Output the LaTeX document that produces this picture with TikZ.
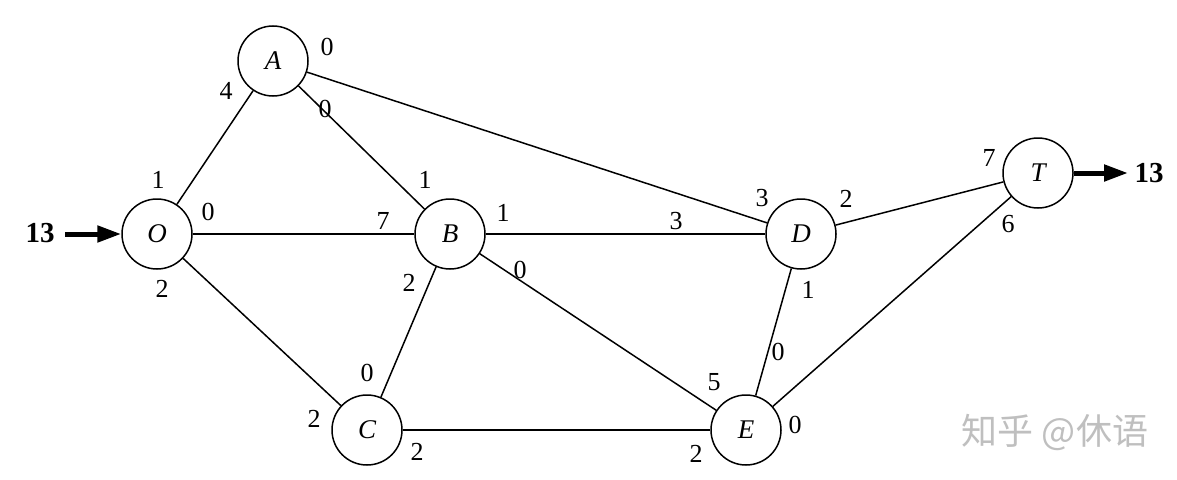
\documentclass[tikz,border=0pt]{standalone}
\usepackage{fontspec}
\setmainfont{Liberation Serif}
\newfontfamily\cjk{Noto Sans CJK SC}
\usetikzlibrary{arrows.meta}
\begin{document}
\begin{tikzpicture}[x=1pt,y=-1pt,
  vtx/.style={circle,draw,line width=1.5pt,minimum size=70pt,inner sep=0pt,font=\fontsize{27}{30}\selectfont\itshape},
  lbl/.style={font=\fontsize{26}{30}\selectfont,inner sep=0pt},
  big/.style={font=\fontsize{29}{32}\selectfont\bfseries,inner sep=0pt},
  edge/.style={line width=1.5pt},
  flow/.style={line width=5pt,-{Triangle[length=24pt,width=16pt]}}]
\useasboundingbox (0,0) rectangle (1177,479);
% vertices
\node[vtx] (A) at (273,61) {A};
\node[vtx] (O) at (157,234) {O};
\node[vtx] (B) at (450,234) {B};
\node[vtx] (C) at (367,430) {C};
\node[vtx] (D) at (801,234) {D};
\node[vtx] (E) at (746,430) {E};
\node[vtx] (T) at (1038,173) {T};
% edges
\draw[edge] (O) -- (A);
\draw[edge] (O) -- (B);
\draw[edge] (O) -- (C);
\draw[edge] (A) -- (B);
\draw[edge] (A) -- (D);
\draw[edge] (B) -- (D);
\draw[edge] (B) -- (C);
\draw[edge] (B) -- (E);
\draw[edge] (C) -- (E);
\draw[edge] (D) -- (E);
\draw[edge] (D) -- (T);
\draw[edge] (E) -- (T);
% source and sink
\node[big] (in13) at (40,233) {13};
\coordinate (inL) at (65,234);
\draw[flow] (inL) -- (O);
\node[big] (out13) at (1149,173) {13};
\coordinate (outR) at (1128,173);
\draw[flow] (T) -- (outR);
% labels
\node[lbl] (a1) at (327,47) {0};
\node[lbl] (a2) at (226,91) {4};
\node[lbl] (a3) at (325,109) {0};
\node[lbl] (o1) at (158,180) {1};
\node[lbl] (o2) at (208,212) {0};
\node[lbl] (o3) at (162,289) {2};
\node[lbl] (b1) at (383,221) {7};
\node[lbl] (b2) at (425,180) {1};
\node[lbl] (b3) at (503,213) {1};
\node[lbl] (b4) at (520,270) {0};
\node[lbl] (b5) at (409,283) {2};
\node[lbl] (c1) at (367,373) {0};
\node[lbl] (c2) at (314,419) {2};
\node[lbl] (c3) at (417,452) {2};
\node[lbl] (d1) at (676,221) {3};
\node[lbl] (d2) at (762,198) {3};
\node[lbl] (d3) at (846,199) {2};
\node[lbl] (d4) at (808,290) {1};
\node[lbl] (e1) at (778,352) {0};
\node[lbl] (e2) at (714,382) {5};
\node[lbl] (e3) at (795,425) {0};
\node[lbl] (e4) at (696,454) {2};
\node[lbl] (t1) at (989,158) {7};
\node[lbl] (t2) at (1008,224) {6};
% watermark
\node[font=\cjk\fontsize{36}{40}\selectfont,text=black!25,inner sep=0pt] (wm) at (1055,432) {知乎 @休语};
\end{tikzpicture}
\end{document}
